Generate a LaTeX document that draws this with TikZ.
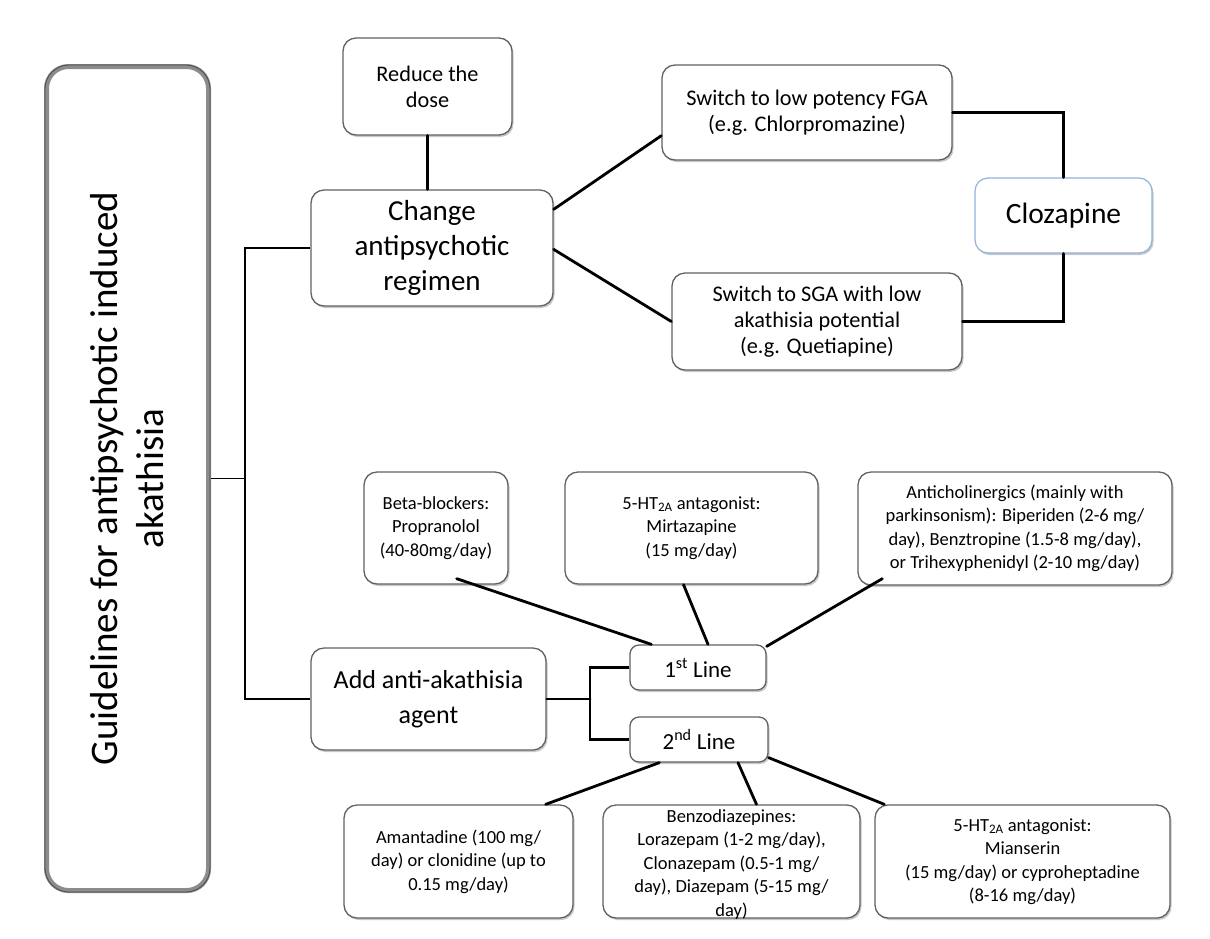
\documentclass[tikz,border=0pt]{standalone}
\usepackage{fontspec}
\setmainfont{Carlito}
\usetikzlibrary{shadows,calc}
\begin{document}
\begin{tikzpicture}[x=1pt,y=-1pt,
  box/.style={draw=black!62, line width=1.3pt, rounded corners=13pt, fill=white, align=center, inner sep=2pt,
    drop shadow={shadow xshift=1.5pt, shadow yshift=-2pt, opacity=0.3, fill=black!70}},
  small/.style={font=\fontsize{22.3}{26}\selectfont},
  tiny/.style={font=\fontsize{18.5}{23.5}\selectfont},
  big/.style={font=\fontsize{29}{35}\selectfont},
  txt/.style={align=center, inner sep=0pt},
  conn/.style={line width=2.8pt, black, line cap=round},
]
\useasboundingbox (0,0) rectangle (1210,938);
\fill[white] (0,0) rectangle (1210,938);

% main box
\node[draw=black!45, line width=5pt, rounded corners=22pt, fill=white, minimum width=162pt, minimum height=824pt,
  drop shadow={shadow xshift=2pt, shadow yshift=-2pt, opacity=0.35, fill=black!70}] (main) at (127.5,478.5) {};
\draw[black!70, line width=0.8pt, rounded corners=24pt] (45,65) rectangle (210,892);
\node[txt, rotate=90, font=\fontsize{39}{46}\selectfont] (title) at (main.center) {Guidelines for antipsychotic induced\\akathisia};

% top branch
\node[box, small, minimum width=169pt, minimum height=97pt] (reduce) at (427.5,86.5) {Reduce the\\dose};
\node[box, big, minimum width=242pt, minimum height=116pt] (change) at (432,248) {Change\\antipsychotic\\regimen};
\node[box, small, minimum width=290pt, minimum height=95pt] (fga) at (807,112.5) {Switch to low potency FGA\\(e.g. Chlorpromazine)};
\node[box, small, minimum width=290pt, minimum height=97pt] (sga) at (817,321.5) {Switch to SGA with low\\akathisia potential\\(e.g. Quetiapine)};
\node[box, draw={rgb,255:red,146;green,178;blue,215}, line width=1.2pt, drop shadow={opacity=0},
  font=\fontsize{29.5}{33}\selectfont, minimum width=177pt, minimum height=75pt] (cloz) at (1063.5,215.5) {Clozapine};

% bottom branch
\node[box, font=\fontsize{26}{35}\selectfont, minimum width=235pt, minimum height=102pt] (add) at (428.5,699) {Add anti-akathisia\\agent};
\node[box, font=\fontsize{23}{28}\selectfont, minimum width=136pt, minimum height=45pt, rounded corners=9pt] (first) at (698,667.5) {1\textsuperscript{st} Line};
\node[box, font=\fontsize{23}{28}\selectfont, minimum width=138pt, minimum height=45pt, rounded corners=9pt] (second) at (699,739.5) {2\textsuperscript{nd} Line};

\node[box, tiny, minimum width=144pt, minimum height=112pt] (beta) at (436,528) {Beta-blockers:\\Propranolol\\(40-80mg/day)};
\node[box, tiny, minimum width=253pt, minimum height=112pt] (mirt) at (691.5,528) {5-HT\textsubscript{2A} antagonist:\\Mirtazapine\\(15 mg/day)};
\node[box, tiny, minimum width=314pt, minimum height=113pt] (anti) at (1015,528.5) {Anticholinergics (mainly with\\parkinsonism): Biperiden (2-6 mg/\\day), Benztropine (1.5-8 mg/day),\\or Trihexyphenidyl (2-10 mg/day)};

\node[box, tiny, minimum width=229pt, minimum height=113pt] (aman) at (458.5,861.5) {Amantadine (100 mg/\\day) or clonidine (up to\\0.15 mg/day)};
\node[box, minimum width=257pt, minimum height=113pt] (benzo) at (731.5,861.5) {};
\node[txt, tiny] (benzotext) at (731.5,864.5) {Benzodiazepines:\\Lorazepam (1-2 mg/day),\\Clonazepam (0.5-1 mg/\\day), Diazepam (5-15 mg/\\day)};
\node[box, tiny, minimum width=295pt, minimum height=113pt] (mian) at (1022.5,861.5) {5-HT\textsubscript{2A} antagonist:\\Mianserin\\(15 mg/day) or cyproheptadine\\(8-16 mg/day)};

% connectors
\coordinate (j1) at (245,478.5);
\coordinate (j2) at (590,699);
\draw[line width=1.8pt] (main.east) -- (j1);
\draw[conn, line cap=butt] (change.west) -| (j1) |- (add.west);
\draw[conn] (reduce.south) -- (reduce.south |- change.north);
\draw[conn] ($(change.north east)+(0,20)$) -- ($(fga.south west)+(0,-25)$);
\draw[conn] ($(change.north east)+(0,60)$) -- (sga.west);
\draw[conn] (fga.east) -| (cloz.north);
\draw[conn] (cloz.south) |- (sga.east);
\draw[conn] (add.east) -- (j2);
\draw[conn, line cap=butt] (first.west) -| (j2) |- (second.west);
\draw[conn] ($(beta.south east)+(-52,-6)$) -- ($(first.north west)+(22,0)$);
\draw[conn] ($(mirt.south)+(-8,0)$) -- ($(first.north)+(10,0)$);
\draw[conn] ($(anti.south west)+(25,-7)$) -- ($(first.north east)+(0,2)$);
\draw[conn] ($(second.south west)+(30,0)$) -- ($(aman.north east)+(-28,0)$);
\draw[conn] ($(second.south)+(39,0)$) -- ($(benzo.north)+(25,0)$);
\draw[conn] ($(second.south east)+(0,-5)$) -- ($(mian.north west)+(10,0)$);
\end{tikzpicture}
\end{document}
